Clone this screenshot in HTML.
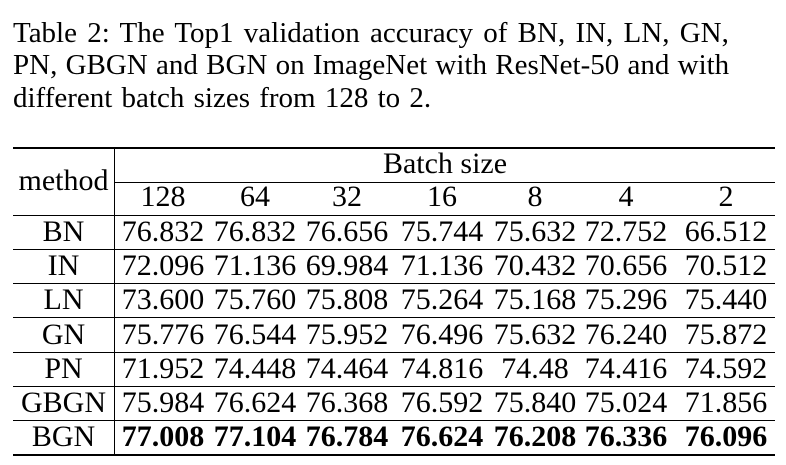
<!DOCTYPE html>
<html><head><style>
body{margin:0;background:#fff;width:786px;height:465px;overflow:hidden;font-family:"Liberation Serif",serif;color:#000;position:relative}
.cap{position:absolute;left:13px;font-size:29px;white-space:nowrap;line-height:32px}
.h{position:absolute;background:#000}
.c{position:absolute;font-size:30px;text-align:center;line-height:34px;white-space:nowrap}
b{font-weight:bold}
</style></head><body>
<div class="cap" style="top:17px;word-spacing:3px">Table 2: The Top1 validation accuracy of BN, IN, LN, GN,</div>
<div class="cap" style="top:49px;word-spacing:1px">PN, GBGN and BGN on ImageNet with ResNet-50 and with</div>
<div class="cap" style="top:82px;word-spacing:2px">different batch sizes from 128 to 2.</div>

<div class="h" style="left:13px;top:147px;width:762px;height:2px"></div>
<div class="h" style="left:115px;top:182px;width:660px;height:1px"></div>
<div class="h" style="left:13px;top:215px;width:762px;height:1px"></div>
<div class="h" style="left:13px;top:249px;width:762px;height:1px"></div>
<div class="h" style="left:13px;top:283px;width:762px;height:1px"></div>
<div class="h" style="left:13px;top:317px;width:762px;height:1px"></div>
<div class="h" style="left:13px;top:352px;width:762px;height:1px"></div>
<div class="h" style="left:13px;top:386px;width:762px;height:1px"></div>
<div class="h" style="left:13px;top:420px;width:762px;height:1px"></div>
<div class="h" style="left:13px;top:454px;width:762px;height:2px"></div>
<div class="h" style="left:114px;top:148px;width:1px;height:307px"></div>

<div class="c" style="left:13px;width:101px;top:164px">method</div>
<div class="c" style="left:115px;width:660px;top:147px">Batch size</div>
<div id="t"></div>
<script>
var cols=[163,255,347,442,535,626,726];
var hdr=["128","64","32","16","8","4","2"];
var rows=[["BN","76.832","76.832","76.656","75.744","75.632","72.752","66.512"],
["IN","72.096","71.136","69.984","71.136","70.432","70.656","70.512"],
["LN","73.600","75.760","75.808","75.264","75.168","75.296","75.440"],
["GN","75.776","76.544","75.952","76.496","75.632","76.240","75.872"],
["PN","71.952","74.448","74.464","74.816","74.48","74.416","74.592"],
["GBGN","75.984","76.624","76.368","76.592","75.840","75.024","71.856"],
["BGN","77.008","77.104","76.784","76.624","76.208","76.336","76.096"]];
var h="";
hdr.forEach(function(x,i){h+='<div class="c" style="left:'+(cols[i]-50)+'px;width:100px;top:180px">'+x+'</div>';});
rows.forEach(function(r,j){var top=215+j*34.2;
h+='<div class="c" style="left:13px;width:101px;top:'+top+'px">'+r[0]+'</div>';
for(var i=1;i<8;i++){var t=r[i];if(j==6)t='<b>'+t+'</b>';
h+='<div class="c" style="left:'+(cols[i-1]-50)+'px;width:100px;top:'+top+'px">'+t+'</div>';}});
document.getElementById('t').innerHTML=h;
</script>
</body></html>
